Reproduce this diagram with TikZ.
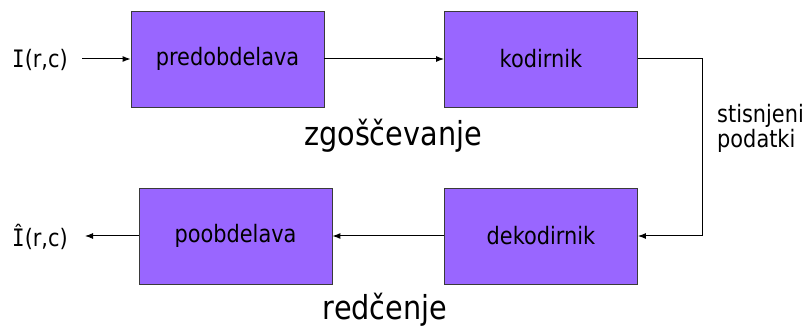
\documentclass[tikz,border=0pt]{standalone}
\usepackage{fontspec}
\setmainfont{DejaVu Sans}[FakeStretch=0.87]
\newfontfamily\serifI{DejaVu Sans Mono}[FakeStretch=0.87]
\usetikzlibrary{arrows.meta}
\definecolor{boxfill}{HTML}{9966FF}
\definecolor{boxline}{HTML}{3A3A3A}
\tikzset{
  blockbox/.style={draw=boxline, fill=boxfill, line width=0.9pt,
    minimum width=193pt, minimum height=96pt, inner sep=0pt,
    font=\fontsize{24}{28}\selectfont, text=black},
  lbl/.style={font=\fontsize{24}{28}\selectfont, inner sep=0pt, text=black},
  biglbl/.style={font=\fontsize{33}{38}\selectfont, inner sep=0pt, text=black},
  conn/.style={line width=1pt, draw=black},
  arr/.style={conn, -{Latex[length=8pt,width=6pt]}}
}
\begin{document}
\begin{tikzpicture}[x=1pt,y=-1pt]
\useasboundingbox[fill=white] (0,0) rectangle (812,328);
\node[blockbox] (pre) at (227.5,59) {predobdelava};
\node[blockbox] (kod) at (541,59) {kodirnik};
\node[blockbox] (dek) at (541,236) {dekodirnik};
\node[blockbox] (poo) at (235.5,236) {poobdelava};
\node[lbl, anchor=west] (in) at (12,60) {{\serifI I}(r,c)};
\node[lbl, anchor=west] (out) at (12,237) {{\serifI Î}(r,c)};
\node[biglbl, anchor=base] (zg) at (393,146) {zgoščevanje};
\node[biglbl, anchor=base] (rd) at (385,320) {redčenje};
\node[lbl, anchor=base west] (st) at (717,123) {stisnjeni};
\node[lbl, anchor=base west] (pd) at (717,148) {podatki};
\coordinate (instart) at (82,59);
\coordinate (outend) at (85,236);
\coordinate (b1) at (702,59);
\coordinate (b2) at (702,236);
\draw[arr] (instart) -- (pre.west);
\draw[arr] (pre.east) -- (kod.west);
\draw[arr] (kod.east) -- (b1) -- (b2) -- (dek.east);
\draw[arr] (dek.west) -- (poo.east);
\draw[arr] (poo.west) -- (outend);
\end{tikzpicture}
\end{document}
